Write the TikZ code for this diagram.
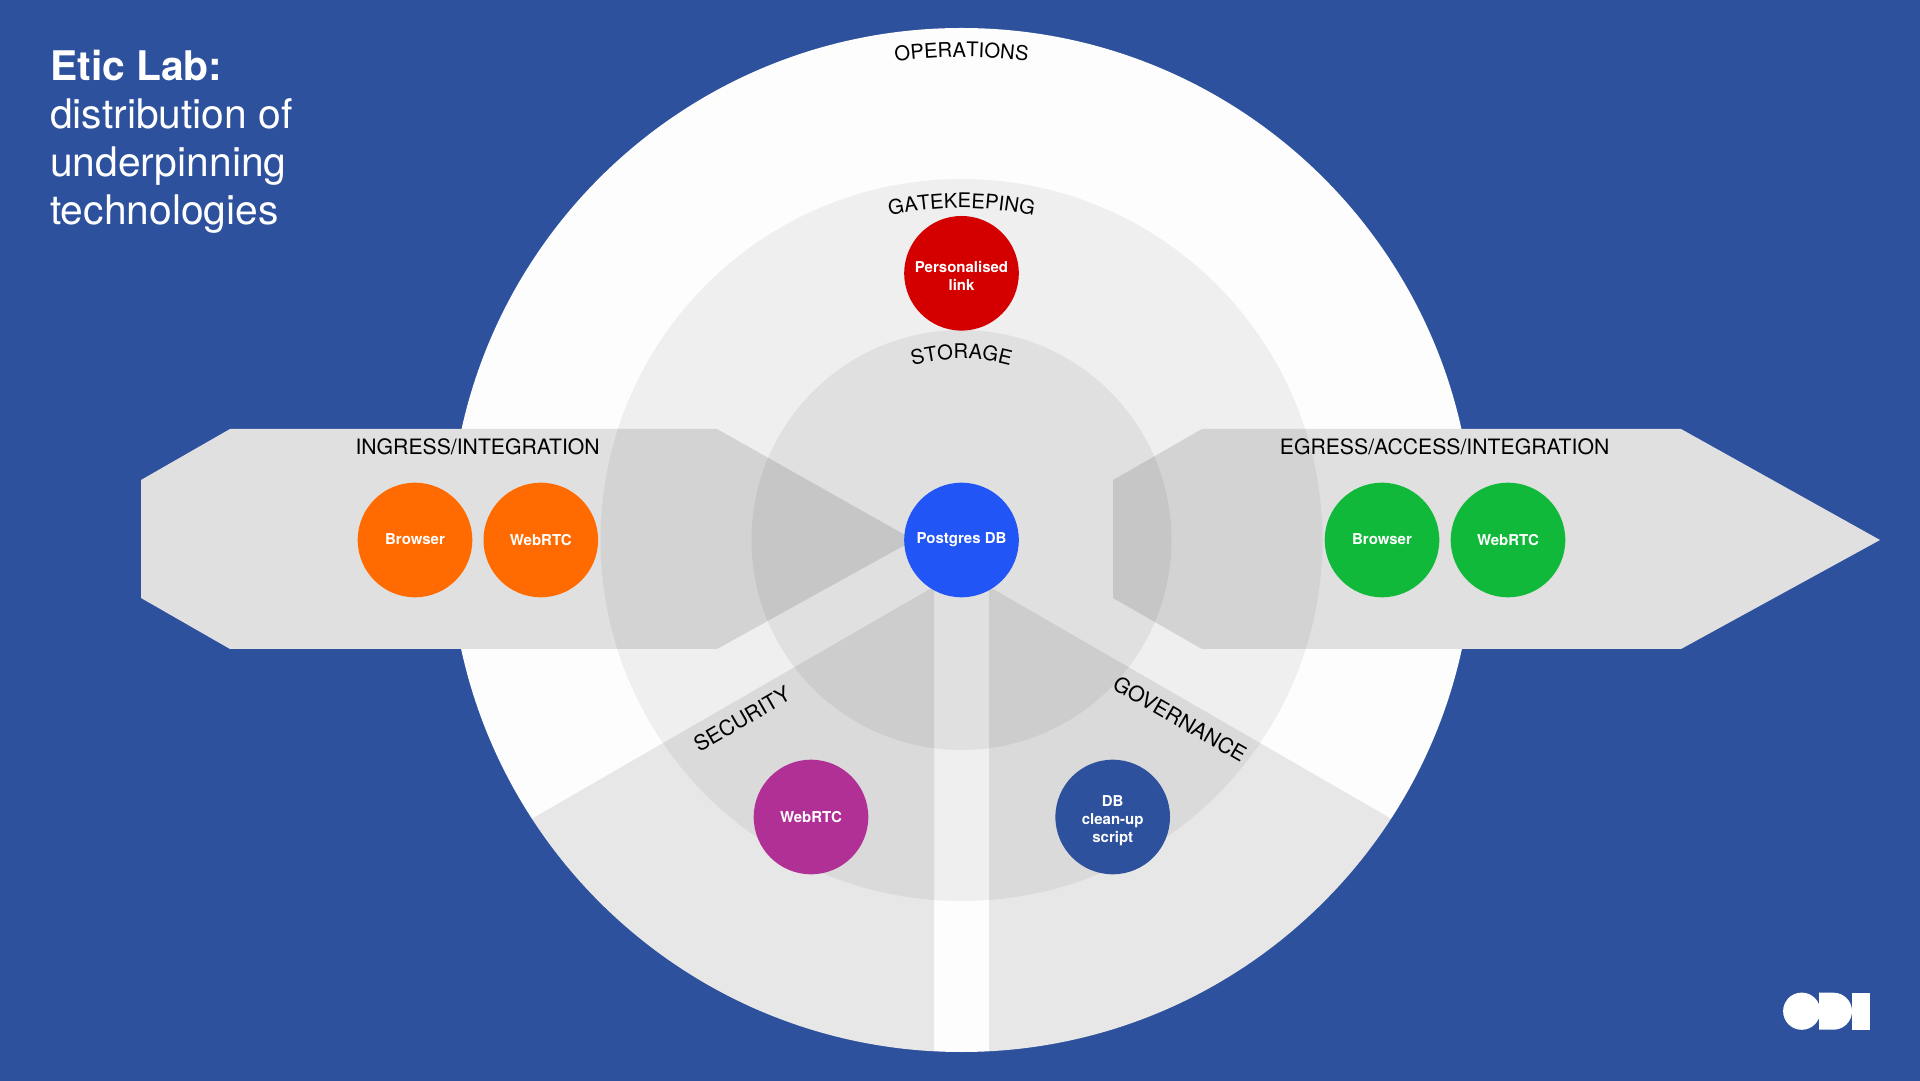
\documentclass[tikz,border=0pt]{standalone}
\usepackage{fontspec}
\usetikzlibrary{decorations.text}
\setmainfont{TeX Gyre Heros}
\definecolor{odiblue}{HTML}{2D519D}
\definecolor{ringwhite}{HTML}{FDFDFD}
\definecolor{bandgrey}{HTML}{E0E0E0}
\definecolor{gatered}{HTML}{D40000}
\definecolor{hubblue}{HTML}{2255F5}
\definecolor{ingressorange}{HTML}{FF6B00}
\definecolor{egressgreen}{HTML}{10B93A}
\definecolor{securitypurple}{HTML}{B03096}
\newcommand{\zonefont}{\fontsize{21.2}{24}\selectfont}
\newcommand{\curvefont}{\fontsize{20.2}{24}\selectfont}
\tikzset{
  techdot/.style={circle,minimum size=114.6pt,inner sep=0pt,text=white,align=center,
    font=\fontsize{15}{18}\selectfont\bfseries},
  zonelabel/.style={font=\zonefont,text=black,inner sep=0pt},
  ringlabel/.style={decorate,decoration={text along path,text align=center,text={|\curvefont|#1}}},
  ringshade/.style={fill=black,fill opacity=#1},
  wedgeshade/.style={fill=black,fill opacity=0.085},
  band/.style={fill=bandgrey}
}

\begin{document}
\begin{tikzpicture}[x=1pt,y=1pt]
      \useasboundingbox (0,0) rectangle (1920,1080);
      \fill[odiblue] (-2,-2) rectangle (1922,1082);
      \coordinate (centre) at (961.5,540);

      \fill[ringwhite] (centre) circle (512pt);

      \fill[band] (141,600) -- (230,651) -- (717,651) -- (914,540) -- (717,431) -- (230,431) -- (141,482) -- cycle;
      \fill[band] (1113,600) -- (1202,651) -- (1681,651) -- (1880,540) -- (1681,431) -- (1202,431) -- (1113,482) -- cycle;

      \begin{scope}
        \clip (centre) circle (512pt);
        \fill[wedgeshade] (934,493.4) -- (934,-200) -- (-100,-200) -- (-100,-103.6) -- cycle;
        \fill[wedgeshade] (989,493.4) -- (989,-200) -- (2020,-200) -- (2020,-101.6) -- cycle;
      \end{scope}

      \fill[ringshade=0.055] (centre) circle (361pt);
      \fill[ringshade=0.06] (centre) circle (210pt);

      \node[techdot,fill=hubblue] (hub) at (centre) {Postgres DB};
      \node[techdot,fill=gatered,text height=35pt,above of=hub,node distance=266.7pt] (link) {Personalised\\link};
      \node[techdot,fill=ingressorange,text depth=2pt,left of=hub,node distance=546.5pt] (inbrowser) {Browser};
      \node[techdot,fill=ingressorange,right of=inbrowser,node distance=125.8pt] (inwebrtc) {WebRTC};
      \node[techdot,fill=egressgreen,text depth=2pt,right of=hub,node distance=420.5pt] (outbrowser) {Browser};
      \node[techdot,fill=egressgreen,right of=outbrowser,node distance=126pt] (outwebrtc) {WebRTC};
      \node[techdot,fill=securitypurple,below of=hub,xshift=-150.5pt,node distance=277pt] (guard) {WebRTC};
      \node[techdot,fill=odiblue,text height=54pt,below of=hub,xshift=151.2pt,node distance=277pt] (cleanup) {DB\\clean-up\\script};

      \path[ringlabel=OPERATIONS] (720,958.3) arc[start angle=120,end angle=60,radius=483pt];
      \path[ringlabel=GATEKEEPING] (795.5,827.5) arc[start angle=120,end angle=60,radius=332pt];
      \path[ringlabel=STORAGE] (871,696.8) arc[start angle=120,end angle=60,radius=181pt];

      \node[zonelabel,anchor=base] (ingress) at (477.6,625) {INGRESS/INTEGRATION};
      \node[zonelabel,anchor=base] (egress) at (1444.6,625) {EGRESS/ACCESS/INTEGRATION};
      \node[zonelabel,rotate=30] (security) at (742,361) {SECURITY};
      \node[zonelabel,rotate=-30] (governance) at (1180,361) {GOVERNANCE};

      \node[anchor=base west,inner sep=0pt,text=white,align=left,font=\fontsize{40.8}{48}\selectfont] (title) at (50,855)
        {\textbf{Etic Lab:}\\distribution of\\underpinning\\technologies};

      % logo
      \fill[white] (1801.7,68.8) circle (18.6pt);
      \fill[white] (1819,87.3) -- (1833.5,87.3) arc[start angle=90,end angle=-90,radius=18.5pt] -- (1819,50.3) -- cycle;
      \fill[white] (1852.3,50.3) rectangle (1870,87.3);
    \end{tikzpicture}
\end{document}
